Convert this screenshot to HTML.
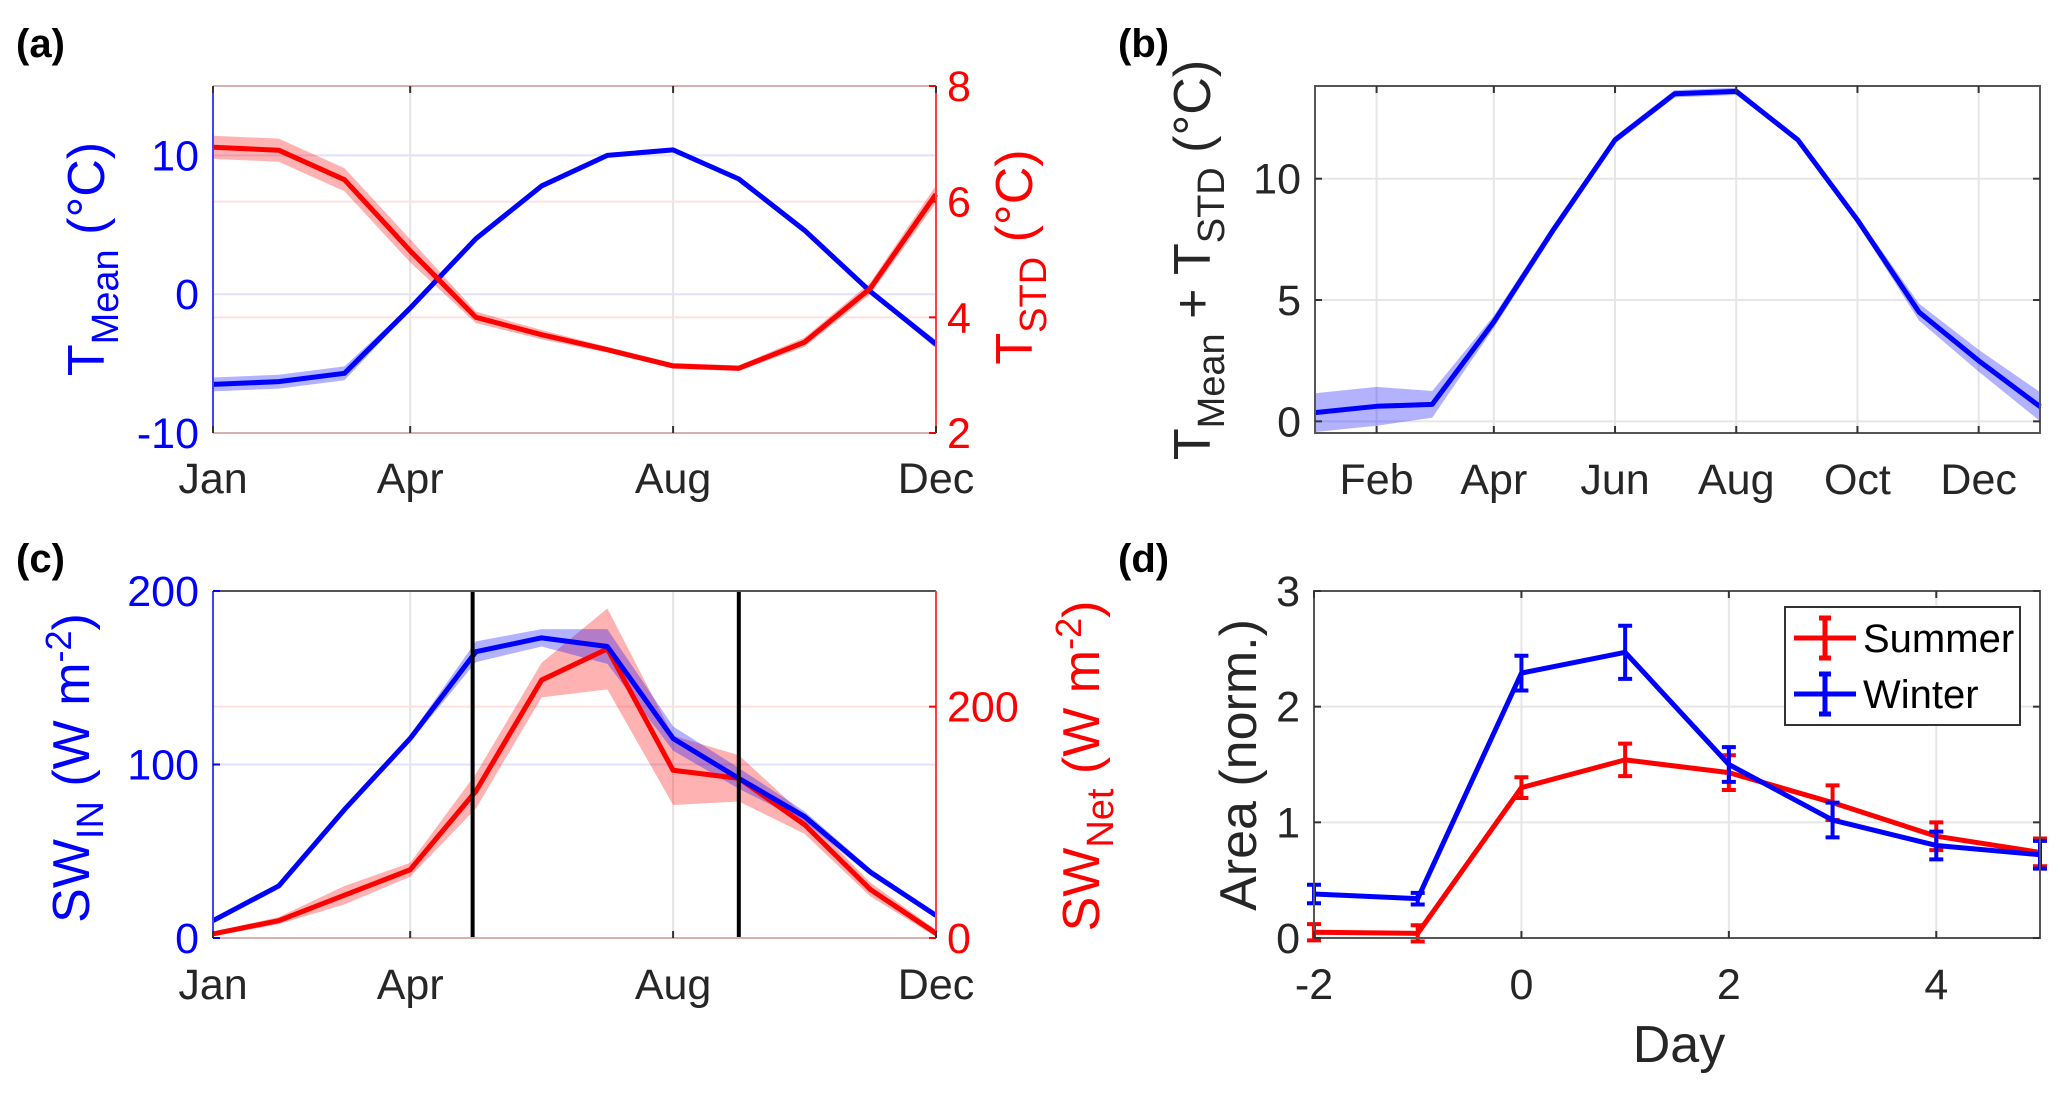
<!DOCTYPE html>
<html><head><meta charset="utf-8"><style>
html,body{margin:0;padding:0;background:#fff;}
svg{display:block;font-family:"Liberation Sans",Arial,sans-serif;}
</style></head><body>
<svg id="fig" width="2067" height="1096" viewBox="0 0 2067 1096" xmlns="http://www.w3.org/2000/svg"></svg>
<script>
// ---------- data ----------
const monthsA = [0,1,2,3,4,5,6,7,8,9,10,11];
const tMean = [-6.5,-6.3,-5.7,-1.0,4.0,7.8,10.0,10.4,8.3,4.6,0.2,-3.6];
const tMeanErr = [0.5,0.5,0.5,0.15,0.1,0.1,0.1,0.1,0.1,0.1,0.15,0.3];
const tStd = [6.94,6.89,6.38,5.15,4.0,3.7,3.44,3.16,3.12,3.57,4.5,6.13];
const tStdErr = [0.2,0.2,0.2,0.2,0.1,0.08,0.05,0.05,0.05,0.08,0.1,0.15];
const monthTicksA = [0,3,7,11];
const monthLabelsA = ["Jan","Apr","Aug","Dec"];

const daysB = [0,31,59,90,120,151,181,212,243,273,304,334,365];
const tSum = [0.36,0.62,0.7,4.1,7.9,11.6,13.5,13.6,11.6,8.3,4.5,2.5,0.6];
const tSumErr = [0.8,0.8,0.55,0.25,0.2,0.15,0.15,0.15,0.1,0.15,0.35,0.45,0.6];
const dayTicksB = [31,90,151,212,273,334];
const dayLabelsB = ["Feb","Apr","Jun","Aug","Oct","Dec"];

const swIn = [10,30,74,115,165,173,168,115,92,70,38,13];
const swInErr = [1,1,1,2,6,5,10,7,6,3,2,1];
const swNet = [3.5,15,37,59,127,223,250,145,138,98,42,4];
const swNetErr = [2,3,8,6,15,15,35,30,20,8,6,3];
const markerLines = [3.95,8.0];

const daysD = [-2,-1,0,1,2,3,4,5];
const summer = [0.05,0.04,1.30,1.54,1.43,1.17,0.88,0.74];
const summerErr = [0.07,0.07,0.09,0.14,0.15,0.15,0.12,0.12];
const winter = [0.38,0.34,2.29,2.47,1.50,1.02,0.80,0.72];
const winterErr = [0.08,0.05,0.15,0.23,0.15,0.15,0.12,0.12];

// ---------- helpers ----------
const NS="http://www.w3.org/2000/svg";
const svg=document.getElementById('fig');
function el(tag,attrs,parent,text){const e=document.createElementNS(NS,tag);for(const k in attrs)e.setAttribute(k,attrs[k]);if(text!==undefined)e.textContent=text;(parent||svg).appendChild(e);return e;}
function lin(d0,d1,r0,r1){return v=>r0+(v-d0)*(r1-r0)/(d1-d0);}
function pathOf(xs,ys,X,Y){return xs.map((x,i)=>(i?'L':'M')+X(x).toFixed(2)+' '+Y(ys[i]).toFixed(2)).join(' ');}
function bandOf(xs,ys,es,X,Y){let up=xs.map((x,i)=>X(x).toFixed(2)+' '+Y(ys[i]+es[i]).toFixed(2));let dn=xs.map((x,i)=>X(x).toFixed(2)+' '+Y(ys[i]-es[i]).toFixed(2)).reverse();return 'M'+up.join(' L')+' L'+dn.join(' L')+' Z';}
const TF=43, LF=52, PF=40, TB=15;

// ---------- panel (a) ----------
{
const g=el('g',{});


const L=213,R=936,T=86,B=433;
const X=lin(0,11,L,R), Y=lin(-10,15,B,T), Y2=lin(2,8,B,T);
[3,7].forEach(m=>el('line',{x1:X(m),x2:X(m),y1:T,y2:B,stroke:'#e4e4e4','stroke-width':2},g));
[0,10].forEach(v=>el('line',{x1:L,x2:R,y1:Y(v),y2:Y(v),stroke:'#e0e0ff','stroke-width':2},g));
[4,6].forEach(v=>el('line',{x1:L,x2:R,y1:Y2(v),y2:Y2(v),stroke:'#ffe0e0','stroke-width':2},g));
el('path',{d:bandOf(monthsA,tMean,tMeanErr,X,Y),fill:'rgba(0,0,255,0.3)'},g);
el('path',{d:bandOf(monthsA,tStd,tStdErr,X,Y2),fill:'rgba(255,0,0,0.3)'},g);
const l1=el('path',{d:pathOf(monthsA,tMean,X,Y),fill:'none',stroke:'#0000ff','stroke-width':5,'stroke-linejoin':'round'},g);

const l2=el('path',{d:pathOf(monthsA,tStd,X,Y2),fill:'none',stroke:'#ff0000','stroke-width':5,'stroke-linejoin':'round'},g);

el('line',{x1:L,x2:R,y1:T,y2:T,stroke:'#d8b0b0','stroke-width':2},g);
el('line',{x1:L,x2:R,y1:B,y2:B,stroke:'#d8b0b0','stroke-width':2},g);
el('line',{x1:L,x2:L,y1:T,y2:B,stroke:'#4040ff','stroke-width':2},g);
el('line',{x1:R,x2:R,y1:T,y2:B,stroke:'#ff4040','stroke-width':2},g);
monthTicksA.forEach((m,i)=>{el('line',{x1:X(m),x2:X(m),y1:T,y2:T+7,stroke:'#333','stroke-width':2},g);el('line',{x1:X(m),x2:X(m),y1:B,y2:B-7,stroke:'#333','stroke-width':2},g);
 const t=el('text',{x:X(m),y:493,'text-anchor':'middle','font-size':TF,fill:'#262626'},g,monthLabelsA[i]);});
[-10,0,10].forEach(v=>{const t=el('text',{x:L-14,y:Y(v)+TB,'text-anchor':'end','font-size':TF,fill:'#0000ff'},g,String(v));});
[2,4,6,8].forEach(v=>{el('line',{x1:R,x2:R-7,y1:Y2(v),y2:Y2(v),stroke:'#ff0000','stroke-width':2},g);const t=el('text',{x:R+11,y:Y2(v)+TB,'text-anchor':'start','font-size':TF,fill:'#ff0000'},g,String(v));});
const ta=el('text',{transform:'translate(104,259) rotate(-90)','text-anchor':'middle','font-size':LF,fill:'#0000ff'},g);

ta.innerHTML='T<tspan font-size="38" dy="14">Mean</tspan><tspan dy="-14"> (°C)</tspan>';
const tb=el('text',{transform:'translate(1032,257) rotate(-90)','text-anchor':'middle','font-size':LF,fill:'#ff0000'},g);

tb.innerHTML='T<tspan font-size="38" dy="14">STD</tspan><tspan dy="-14"> (°C)</tspan>';
const pl=el('text',{x:16,y:57,'font-size':PF,'font-weight':'bold',fill:'#000'},g,'(a)');
}

// ---------- panel (b) ----------
{
const g=el('g',{});


const L=1315,R=2040,T=86,B=433;
const X=lin(0,365,L,L+365*1.987), Y=lin(-0.48,13.82,B,T);
dayTicksB.forEach(d=>el('line',{x1:X(d),x2:X(d),y1:T,y2:B,stroke:'#e6e6e6','stroke-width':2},g));
[0,5,10].forEach(v=>el('line',{x1:L,x2:R,y1:Y(v),y2:Y(v),stroke:'#e6e6e6','stroke-width':2},g));
el('path',{d:bandOf(daysB,tSum,tSumErr,X,Y),fill:'rgba(0,0,255,0.3)'},g);
const l=el('path',{d:pathOf(daysB,tSum,X,Y),fill:'none',stroke:'#0000ff','stroke-width':5,'stroke-linejoin':'round'},g);

el('rect',{x:L,y:T,width:R-L,height:B-T,fill:'none',stroke:'#555','stroke-width':2},g);
dayTicksB.forEach((d,i)=>{el('line',{x1:X(d),x2:X(d),y1:B,y2:B-7,stroke:'#333','stroke-width':2},g);el('line',{x1:X(d),x2:X(d),y1:T,y2:T+7,stroke:'#333','stroke-width':2},g);
 const t=el('text',{x:X(d),y:494,'text-anchor':'middle','font-size':TF,fill:'#262626'},g,dayLabelsB[i]);});
[0,5,10].forEach(v=>{el('line',{x1:L,x2:L+7,y1:Y(v),y2:Y(v),stroke:'#333','stroke-width':2},g);el('line',{x1:R,x2:R-7,y1:Y(v),y2:Y(v),stroke:'#333','stroke-width':2},g);
 const t=el('text',{x:L-14,y:Y(v)+TB,'text-anchor':'end','font-size':TF,fill:'#262626'},g,String(v));});
const ta=el('text',{transform:'translate(1210,260) rotate(-90)','text-anchor':'middle','font-size':LF,fill:'#262626'},g);

ta.innerHTML='T<tspan font-size="38" dy="14">Mean</tspan><tspan dy="-14"> + T</tspan><tspan font-size="38" dy="14">STD</tspan><tspan dy="-14"> (°C)</tspan>';
const pl=el('text',{x:1118,y:57,'font-size':PF,'font-weight':'bold',fill:'#000'},g,'(b)');
}

// ---------- panel (c) ----------
{
const g=el('g',{});


const L=213,R=936,T=591,B=938;
const X=lin(0,11,L,R), Y=lin(0,200,B,T), Y2=lin(0,300,B,T);
[3,7].forEach(m=>el('line',{x1:X(m),x2:X(m),y1:T,y2:B,stroke:'#e4e4e4','stroke-width':2},g));
el('line',{x1:L,x2:R,y1:Y(100),y2:Y(100),stroke:'#e0e0ff','stroke-width':2},g);
el('line',{x1:L,x2:R,y1:Y2(200),y2:Y2(200),stroke:'#ffe0e0','stroke-width':2},g);
el('path',{d:bandOf(monthsA,swNet,swNetErr,X,Y2),fill:'rgba(255,0,0,0.3)'},g);
el('path',{d:bandOf(monthsA,swIn,swInErr,X,Y),fill:'rgba(0,0,255,0.3)'},g);
const l2=el('path',{d:pathOf(monthsA,swNet,X,Y2),fill:'none',stroke:'#ff0000','stroke-width':5,'stroke-linejoin':'round'},g);

const l1=el('path',{d:pathOf(monthsA,swIn,X,Y),fill:'none',stroke:'#0000ff','stroke-width':5,'stroke-linejoin':'round'},g);

markerLines.forEach(m=>{const v=el('line',{x1:X(m),x2:X(m),y1:T,y2:B,stroke:'#000','stroke-width':4},g);});
el('line',{x1:L,x2:R,y1:T,y2:T,stroke:'#555','stroke-width':2},g);
el('line',{x1:L,x2:R,y1:B,y2:B,stroke:'#d8b0b0','stroke-width':2},g);
el('line',{x1:L,x2:L,y1:T,y2:B,stroke:'#4040ff','stroke-width':2},g);
el('line',{x1:R,x2:R,y1:T,y2:B,stroke:'#ff4040','stroke-width':2},g);
monthTicksA.forEach((m,i)=>{el('line',{x1:X(m),x2:X(m),y1:B,y2:B-7,stroke:'#333','stroke-width':2},g);
 const t=el('text',{x:X(m),y:999,'text-anchor':'middle','font-size':TF,fill:'#262626'},g,monthLabelsA[i]);});
[0,100,200].forEach(v=>{el('line',{x1:L,x2:L+7,y1:Y(v),y2:Y(v),stroke:'#0000ff','stroke-width':2},g);const t=el('text',{x:L-14,y:Y(v)+TB,'text-anchor':'end','font-size':TF,fill:'#0000ff'},g,String(v));});
[0,200].forEach(v=>{el('line',{x1:R,x2:R-7,y1:Y2(v),y2:Y2(v),stroke:'#ff0000','stroke-width':2},g);const t=el('text',{x:R+11,y:Y2(v)+TB,'text-anchor':'start','font-size':TF,fill:'#ff0000'},g,String(v));});
const ta=el('text',{transform:'translate(89,768) rotate(-90)','text-anchor':'middle','font-size':LF,fill:'#0000ff'},g);

ta.innerHTML='SW<tspan font-size="38" dy="14">IN</tspan><tspan dy="-14"> (W m</tspan><tspan font-size="36" dy="-18">-2</tspan><tspan dy="18">)</tspan>';
const tb=el('text',{transform:'translate(1099,766) rotate(-90)','text-anchor':'middle','font-size':LF,fill:'#ff0000'},g);

tb.innerHTML='SW<tspan font-size="38" dy="14">Net</tspan><tspan dy="-14"> (W m</tspan><tspan font-size="36" dy="-18">-2</tspan><tspan dy="18">)</tspan>';
const pl=el('text',{x:16,y:572,'font-size':PF,'font-weight':'bold',fill:'#000'},g,'(c)');
}

// ---------- panel (d) ----------
{
const g=el('g',{});


const L=1314,R=2040,T=591,B=938;
const X=lin(-2,5,L,R), Y=lin(0,3,B,T);
[0,2,4].forEach(d=>el('line',{x1:X(d),x2:X(d),y1:T,y2:B,stroke:'#e6e6e6','stroke-width':2},g));
[1,2].forEach(v=>el('line',{x1:L,x2:R,y1:Y(v),y2:Y(v),stroke:'#e6e6e6','stroke-width':2},g));
function series(ys,es,col,name){
 const p=el('path',{d:pathOf(daysD,ys,X,Y),fill:'none',stroke:col,'stroke-width':5,'stroke-linejoin':'round'},g);
 
 daysD.forEach((d,i)=>{const x=X(d),y1=Y(ys[i]+es[i]),y2=Y(ys[i]-es[i]);
  const e=el('path',{d:`M${x} ${y1}L${x} ${y2}M${x-7} ${y1}L${x+7} ${y1}M${x-7} ${y2}L${x+7} ${y2}`,stroke:col,'stroke-width':4,fill:'none'},g);
  });
}
series(summer,summerErr,'#ff0000','summer');
series(winter,winterErr,'#0000ff','winter');
el('rect',{x:L,y:T,width:R-L,height:B-T,fill:'none',stroke:'#555','stroke-width':2},g);
[-2,0,2,4].forEach(d=>{el('line',{x1:X(d),x2:X(d),y1:B,y2:B-7,stroke:'#333','stroke-width':2},g);el('line',{x1:X(d),x2:X(d),y1:T,y2:T+7,stroke:'#333','stroke-width':2},g);
 const t=el('text',{x:X(d),y:999,'text-anchor':'middle','font-size':TF,fill:'#262626'},g,String(d));});
[0,1,2,3].forEach(v=>{el('line',{x1:L,x2:L+7,y1:Y(v),y2:Y(v),stroke:'#333','stroke-width':2},g);el('line',{x1:R,x2:R-7,y1:Y(v),y2:Y(v),stroke:'#333','stroke-width':2},g);
 const t=el('text',{x:L-14,y:Y(v)+TB,'text-anchor':'end','font-size':TF,fill:'#262626'},g,String(v));});
const ta=el('text',{transform:'translate(1256,765) rotate(-90)','text-anchor':'middle','font-size':LF,fill:'#262626'},g,'Area (norm.)');

const xa=el('text',{x:1679,y:1062,'text-anchor':'middle','font-size':LF,fill:'#262626'},g,'Day');

const lg=el('g',{},g);

el('rect',{x:1785,y:607,width:235,height:118,fill:'#fff',stroke:'#333','stroke-width':2},lg);
[['Summer','#ff0000',638],['Winter','#0000ff',694]].forEach(([n,c,y])=>{
 const e=el('g',{},lg);
 el('path',{d:`M1794 ${y}L1856 ${y}M1825 ${y-20}L1825 ${y+20}M1819 ${y-20}L1831 ${y-20}M1819 ${y+20}L1831 ${y+20}`,stroke:c,'stroke-width':5,fill:'none'},e);
 el('text',{x:1863,y:y+14,'font-size':40,fill:'#000'},e,n);});
const pl=el('text',{x:1118,y:572,'font-size':PF,'font-weight':'bold',fill:'#000'},g,'(d)');
}
</script>
</body></html>
